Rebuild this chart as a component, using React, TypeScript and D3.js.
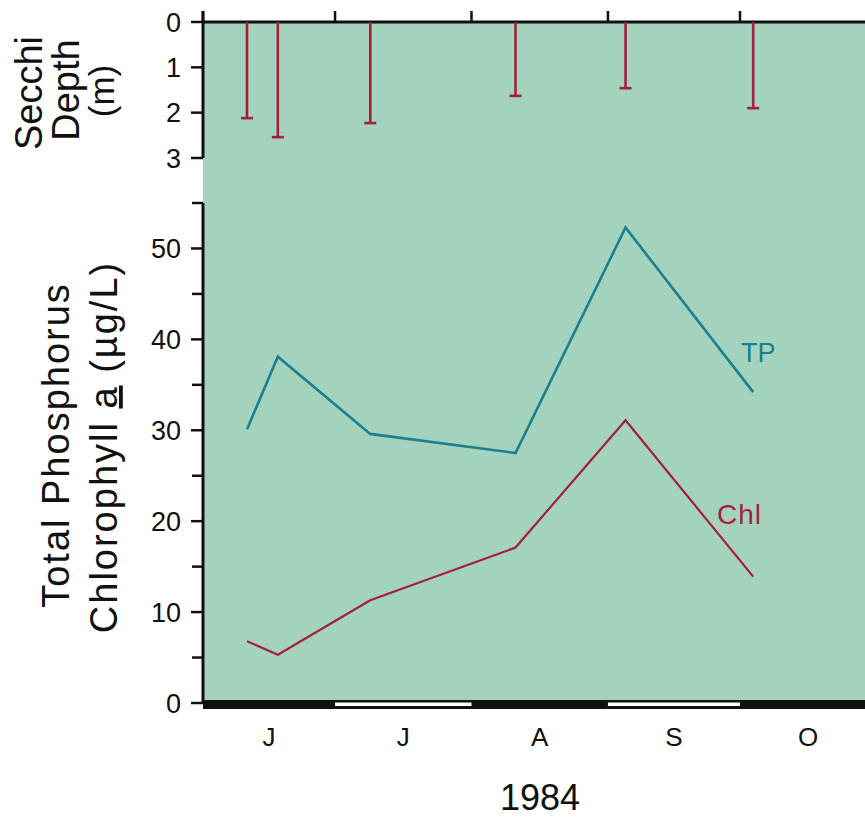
import React from "react";
import * as d3 from "d3";

const sampleDates = ["1984-06-11", "1984-06-18", "1984-07-09", "1984-08-11", "1984-09-05", "1984-10-04"];
const secchiDepth = [2.12, 2.54, 2.23, 1.63, 1.46, 1.9];
const totalPhosphorus = [30.1, 38.1, 29.6, 27.5, 52.3, 34.2];
const chlorophyll = [6.8, 5.3, 11.3, 17.1, 31.1, 13.9];

const monthLabels = ["J", "J", "A", "S", "O"];
const monthStarts = ["1984-06-01", "1984-07-01", "1984-08-01", "1984-09-01", "1984-10-01", "1984-11-01"];
const secchiTicks = [0, 1, 2, 3];
const concTicks = [0, 10, 20, 30, 40, 50];
const concMinorTicks = [5, 15, 25, 35, 45, 55];

const W = 865;
const H = 819;
const left = 203;
const right = 865;
const font = "'Liberation Sans', Arial, Helvetica, sans-serif";
const bg = "#a3d3bc";
const teal = "#1b7f8f";
const crimson = "#a31f3b";

const parse = d3.timeParse("%Y-%m-%d");

export default function App() {
  const dates = sampleDates.map((d) => parse(d) as Date);
  const months = monthStarts.map((d) => parse(d) as Date);

  const x = d3
    .scaleTime()
    .domain([months[0], months[4]])
    .range([left, 740]);

  const ySecchi = d3.scaleLinear().domain([0, 3]).range([22, 158]);
  const yConc = d3.scaleLinear().domain([0, 55]).range([703, 203]);

  const line = d3
    .line<number>()
    .x((_, i) => x(dates[i]))
    .y((v) => yConc(v));

  return (
    <svg width={W} height={H} style={{ position: "absolute", left: 0, top: 0, background: "#fff" }}>
      {/* plot background */}
      <rect x={left} y={ySecchi(0)} width={right - left} height={yConc(0) - ySecchi(0)} fill={bg} />

      {/* top axis with month boundaries */}
      <line x1={left} x2={right} y1={ySecchi(0)} y2={ySecchi(0)} stroke="#111" strokeWidth={3} />
      {months.slice(0, 5).map((m, i) => (
        <line key={"mt" + i} x1={x(m)} x2={x(m)} y1={ySecchi(0)} y2={ySecchi(0) - 11} stroke="#111" strokeWidth={2.5} />
      ))}

      {/* Secchi axis */}
      <line x1={left} x2={left} y1={ySecchi(0) - 11} y2={ySecchi(3)} stroke="#111" strokeWidth={3} />
      {secchiTicks.map((t) => (
        <g key={"st" + t}>
          <line x1={left - 12} x2={left} y1={ySecchi(t)} y2={ySecchi(t)} stroke="#111" strokeWidth={2.5} />
          <text x={left - 22} y={ySecchi(t)} dy="0.36em" textAnchor="end" fontFamily={font} fontSize={27} fill="#111">
            {t}
          </text>
        </g>
      ))}

      {/* Secchi bars */}
      {secchiDepth.map((v, i) => (
        <g key={"sb" + i} stroke={crimson} strokeWidth={2.6}>
          <line x1={x(dates[i])} x2={x(dates[i])} y1={ySecchi(0)} y2={ySecchi(v)} />
          <line x1={x(dates[i]) - 6} x2={x(dates[i]) + 6} y1={ySecchi(v)} y2={ySecchi(v)} />
        </g>
      ))}

      {/* concentration axis */}
      <line x1={left} x2={left} y1={yConc(55)} y2={yConc(0)} stroke="#111" strokeWidth={3} />
      {concMinorTicks.map((t) => (
        <line key={"cm" + t} x1={left - 11} x2={left} y1={yConc(t)} y2={yConc(t)} stroke="#111" strokeWidth={2.5} />
      ))}
      {concTicks.map((t) => (
        <g key={"ct" + t}>
          <line x1={left - 12} x2={left} y1={yConc(t)} y2={yConc(t)} stroke="#111" strokeWidth={2.5} />
          <text x={left - 22} y={yConc(t)} dy="0.36em" textAnchor="end" fontFamily={font} fontSize={27} fill="#111">
            {t}
          </text>
        </g>
      ))}

      {/* bottom month bar */}
      <rect x={left} y={yConc(0) - 3} width={right - left} height={9} fill="#111" />
      {months.slice(0, 5).map((m, i) =>
        i % 2 === 1 ? (
          <rect key={"wb" + i} x={x(m)} y={yConc(0) - 0.5} width={x(months[i + 1]) - x(m)} height={3.5} fill="#fff" />
        ) : null
      )}
      {monthLabels.map((lab, i) => (
        <text
          key={"ml" + i}
          x={(x(months[i]) + x(months[i + 1])) / 2}
          y={746}
          textAnchor="middle"
          fontFamily={font}
          fontSize={26}
          fill="#111"
        >
          {lab}
        </text>
      ))}
      <text x={540} y={810} textAnchor="middle" fontFamily={font} fontSize={36} fill="#111">
        1984
      </text>

      {/* series lines */}
      <path d={line(totalPhosphorus) ?? ""} fill="none" stroke={teal} strokeWidth={2.6} />
      <path d={line(chlorophyll) ?? ""} fill="none" stroke={crimson} strokeWidth={2.2} />
      <text x={741} y={362} fontFamily={font} fontSize={27} fill={teal}>
        TP
      </text>
      <text x={717} y={524} fontFamily={font} fontSize={28} letterSpacing={1} fill={crimson}>
        Chl
      </text>

      {/* y labels */}
      <g fontFamily={font} fontSize={38} fill="#111" textAnchor="middle">
        <text transform={`translate(42,93) rotate(-90)`}>Secchi</text>
        <text transform={`translate(79,90) rotate(-90)`}>Depth</text>
        <text transform={`translate(114,91) rotate(-90)`} fontSize={35}>
          (m)
        </text>
        <text transform={`translate(69,445) rotate(-90)`} letterSpacing={2}>
          Total Phosphorus
        </text>
        <text transform={`translate(117,447) rotate(-90)`} letterSpacing={2}>
          Chlorophyll <tspan textDecoration="underline">a</tspan>{"  "}(µg/L)
        </text>
      </g>
    </svg>
  );
}
